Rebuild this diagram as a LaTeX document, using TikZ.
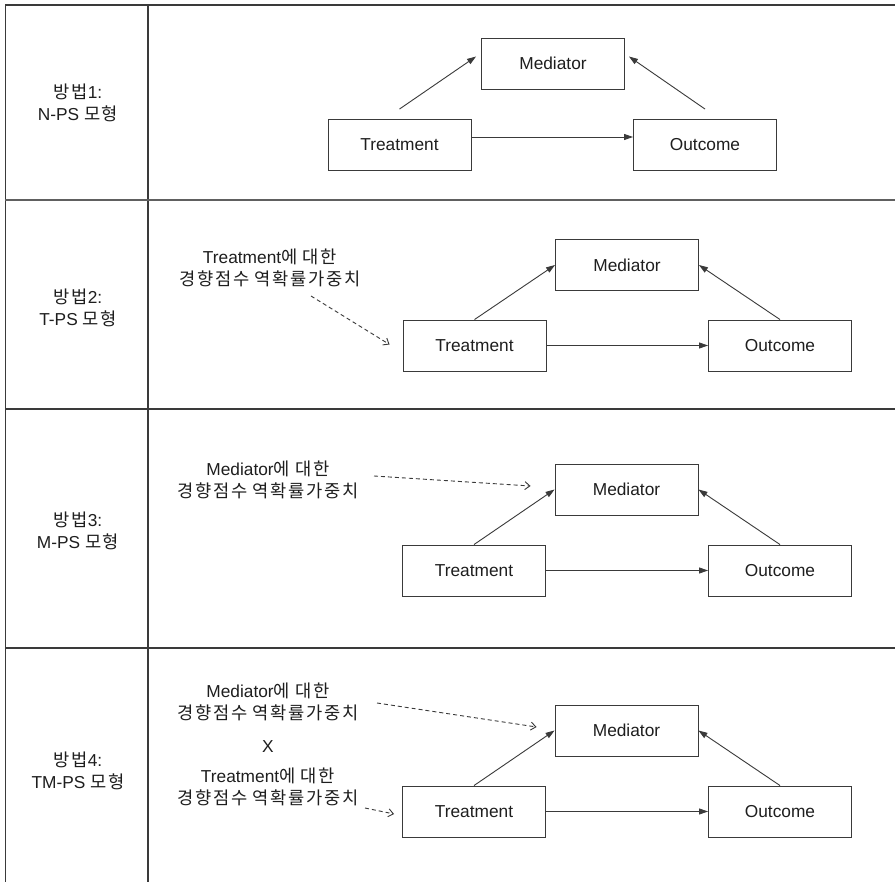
\documentclass[tikz,border=0pt]{standalone}
\usepackage{fontspec}
\setmainfont{Liberation Sans}
\newfontfamily\ko[Scale=1.02,LetterSpace=9]{Noto Sans CJK KR}
\usetikzlibrary{arrows.meta}
\definecolor{ln}{HTML}{3A3A3A}
\definecolor{tx}{HTML}{1E1E1E}
\tikzset{
  box/.style={draw=ln, line width=0.9pt, minimum width=143pt, minimum height=51pt, inner sep=0pt, text=tx, font=\fontsize{17.3}{22}\selectfont},
  lbl/.style={align=center, text=tx, inner sep=0pt, font=\fontsize{17.3}{22}\selectfont},
  arr/.style={draw=ln, line width=0.9pt, -{Triangle[length=9pt,width=6pt]}},
  darr/.style={draw=ln, line width=0.9pt, dash pattern=on 4pt off 3pt, -{Straight Barb[length=5pt,width=8pt]}},
  grid/.style={draw=ln, line width=1.3pt},
}
\begin{document}
\begin{tikzpicture}[x=1pt,y=-1pt]
\useasboundingbox (0,0) rectangle (895,882);
\fill[white] (0,0) rectangle (895,882);
% table lines
\draw[grid] (5,5) -- (895,5);
\draw[grid] (5.5,5) -- (5.5,882);
\draw[grid] (148,5) -- (148,882);
\draw[grid, draw=gray!75!black, line width=1.6pt] (5,200) -- (895,200);
\draw[grid] (5,409) -- (895,409);
\draw[grid] (5,648) -- (895,648);
% row labels
\node[lbl] (L1) at (78,103) {{\ko 방법}1:\\N-PS {\ko 모형}};
\node[lbl] (L2) at (78,308) {{\ko 방법}2:\\T-PS {\ko 모형}};
\node[lbl] (L3) at (78,531) {{\ko 방법}3:\\M-PS {\ko 모형}};
\node[lbl] (L4) at (78,771) {{\ko 방법}4:\\TM-PS {\ko 모형}};
% row 1
\node[box] (M1) at (553,63.5) {Mediator};
\node[box] (T1) at (399.5,145) {Treatment};
\node[box] (O1) at (705,145) {Outcome};
\draw[arr] ([yshift=8pt]T1.east) -- ([yshift=8pt]O1.west);
\draw[arr] ([yshift=10pt]T1.north) -- ([xshift=-5pt,yshift=7pt]M1.west);
\draw[arr] ([yshift=10pt]O1.north) -- ([xshift=4pt,yshift=7pt]M1.east);
% row 2
\node[box] (M2) at (627,265) {Mediator};
\node[box] (T2) at (474.5,345.5) {Treatment};
\node[box] (O2) at (780,345.5) {Outcome};
\draw[arr] (T2.east) -- (O2.west);
\draw[arr] (T2.north) -- (M2.west);
\draw[arr] (O2.north) -- (M2.east);
\node[lbl] (W2) at (270,268) {Treatment{\ko 에 대한}\\{\ko 경향점수 역확률가중치}};
\coordinate (d2) at (311,296);
\draw[darr] (d2) -- ([xshift=-13pt,yshift=1pt]T2.west);
% row 3
\node[box] (M3) at (626.5,489.5) {Mediator};
\node[box] (T3) at (474,570.5) {Treatment};
\node[box] (O3) at (780,570.5) {Outcome};
\draw[arr] (T3.east) -- (O3.west);
\draw[arr] (T3.north) -- (M3.west);
\draw[arr] (O3.north) -- (M3.east);
\node[lbl] (W3) at (268,480) {Mediator{\ko 에 대한}\\{\ko 경향점수 역확률가중치}};
\coordinate (d3) at (374,476);
\draw[darr] (d3) -- ([xshift=-24pt,yshift=3.5pt]M3.west);
% row 4
\node[box] (M4) at (626.5,730.5) {Mediator};
\node[box] (T4) at (474,811.5) {Treatment};
\node[box] (O4) at (780,811.5) {Outcome};
\draw[arr] (T4.east) -- (O4.west);
\draw[arr] (T4.north) -- (M4.west);
\draw[arr] (O4.north) -- (M4.east);
\node[lbl] (W4a) at (268,702) {Mediator{\ko 에 대한}\\{\ko 경향점수 역확률가중치}};
\node[lbl] (X4) at (268,747) {X};
\node[lbl] (W4b) at (268,787) {Treatment{\ko 에 대한}\\{\ko 경향점수 역확률가중치}};
\coordinate (d4a) at (377,703);
\coordinate (d4b) at (365,808);
\draw[darr] (d4a) -- ([xshift=-18pt,yshift=3.5pt]M4.west);
\draw[darr] (d4b) -- ([xshift=-8pt,yshift=-2.5pt]T4.west);
\end{tikzpicture}
\end{document}
